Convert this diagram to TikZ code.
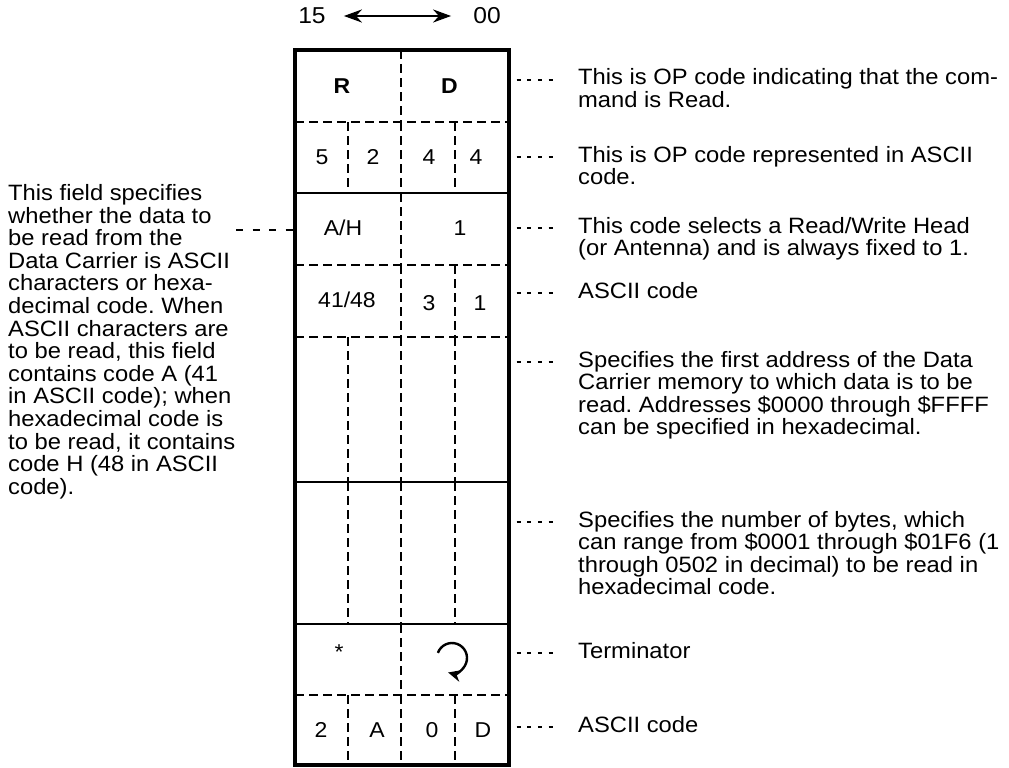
\documentclass[tikz,border=0pt]{standalone}
\usepackage{fontspec}
\setmainfont{Liberation Sans}[FakeStretch=1.07]
\usetikzlibrary{arrows.meta}
\frenchspacing
\begin{document}
\begin{tikzpicture}[x=1pt,y=-1pt,
  frame/.style={line width=4pt,line join=miter},
  rule/.style={line width=2.4pt},
  grid/.style={line width=2.4pt,dash pattern=on 9pt off 5pt},
  leader/.style={line width=2.2pt,dash pattern=on 4pt off 6.7pt},
  lleader/.style={line width=2.2pt,dash pattern=on 7pt off 9.5pt},
  cell/.style={inner sep=0pt,anchor=base,font=\fontsize{21.5}{24}\selectfont},
  note/.style={inner sep=0pt,anchor=base west,align=left,font=\fontsize{22.2}{22.6}\selectfont},
  toplabel/.style={inner sep=0pt,font=\fontsize{23}{26}\selectfont},
]
\useasboundingbox (0,0) rectangle (1009,768);

% top bit-order arrow
\node[toplabel] (n15) at (312,16) {15};
\node[toplabel] (n00) at (487,16) {00};
\draw[line width=2.4pt,{Stealth[length=18pt,width=13pt]}-{Stealth[length=18pt,width=13pt]},
  shorten <=18pt, shorten >=22pt] (n15) -- (n00);

% horizontal lines
\foreach \y in {122,265,337,695} \draw[grid] (295,\y) -- (509,\y);
\foreach \y in {193,482,624} \draw[rule] (295,\y) -- (509,\y);

% vertical dashed lines per row
\draw[grid] (401,50) -- (401,122);
\foreach \x in {348,401,455} \draw[grid] (\x,122) -- (\x,193);
\draw[grid] (401,193) -- (401,265);
\foreach \x in {401,455} \draw[grid] (\x,265) -- (\x,337);
\foreach \x in {348,401,455} \draw[grid] (\x,337) -- (\x,482);
\foreach \x in {348,401,455} \draw[grid] (\x,482) -- (\x,624);
\draw[grid] (401,624) -- (401,695);
\foreach \x in {348,401,455} \draw[grid] (\x,695) -- (\x,765);

% outer frame
\draw[frame] (295,50) rectangle (509,765);

% cell contents
\node[cell,font=\fontsize{21.5}{24}\selectfont\bfseries] (cR) at (342,93) {R};
\node[cell,font=\fontsize{21.5}{24}\selectfont\bfseries] (cD) at (449.5,93) {D};
\node[cell] (c5) at (322,164.5) {5};
\node[cell] (c2) at (373,164.5) {2};
\node[cell] (c4a) at (429,164.5) {4};
\node[cell] (c4b) at (476,164.5) {4};
\node[cell] (cAH) at (343,235.5) {A/H};
\node[cell] (c1) at (460,235.5) {1};
\node[cell] (c4148) at (347,307.5) {41/48};
\node[cell] (c3) at (429,310.5) {3};
\node[cell] (c1b) at (480,310.5) {1};
\node[cell,anchor=center] (cstar) at (339,652) {*};
\coordinate (ret) at (452,658);
\draw[line width=2.4pt,-{Stealth[length=13pt,width=12pt]}]
  ([shift={(-160:15)}]ret) arc[start angle=-160,end angle=105,radius=15];
\node[cell] (c2b) at (321,737.5) {2};
\node[cell] (cA) at (377,737.5) {A};
\node[cell] (c0) at (432,737.5) {0};
\node[cell] (cDb) at (483,737.5) {D};

% right notes (anchor = baseline of the last line)
\node[note] (t1) at (578,107.6) {This is OP code indicating that the com-\\mand is Read.};
\node[note] (t2) at (578,184.6) {This is OP code represented in ASCII\\code.};
\node[note] (t3) at (578,255.6) {This code selects a Read/Write Head\\(or Antenna) and is always fixed to 1.};
\node[note] (t4) at (578,298) {ASCII code};
\node[note] (t5) at (578,434.8) {Specifies the first address of the Data\\Carrier memory to which data is to be\\read. Addresses \$0000 through \$FFFF\\can be specified in hexadecimal.};
\node[note] (t6) at (578,594.8) {Specifies the number of bytes, which\\can range from \$0001 through \$01F6 (1\\through 0502 in decimal) to be read in\\hexadecimal code.};
\node[note] (t7) at (578,658) {Terminator};
\node[note] (t8) at (578,732) {ASCII code};

\foreach \i/\y in {1/80,2/157,3/228,4/293,5/362,6/522,7/653,8/727}{
  \coordinate (rs\i) at (516.5,\y);
  \coordinate (re\i) at (t\i.west |- rs\i);
  \draw[leader] (rs\i) -- ([xshift=-25pt]re\i);
}

% left note
\node[note] (tl) at (8,494.3) {This field specifies\\whether the data to\\be read from the\\Data Carrier is ASCII\\characters or hexa-\\decimal code. When\\ASCII characters are\\to be read, this field\\contains code A (41\\in ASCII code); when\\hexadecimal code is\\to be read, it contains\\code H (48 in ASCII\\code).};
\coordinate (ls) at (236,230);
\coordinate (le) at (293,230);
\draw[lleader] (ls) -- (le);
\end{tikzpicture}
\end{document}
